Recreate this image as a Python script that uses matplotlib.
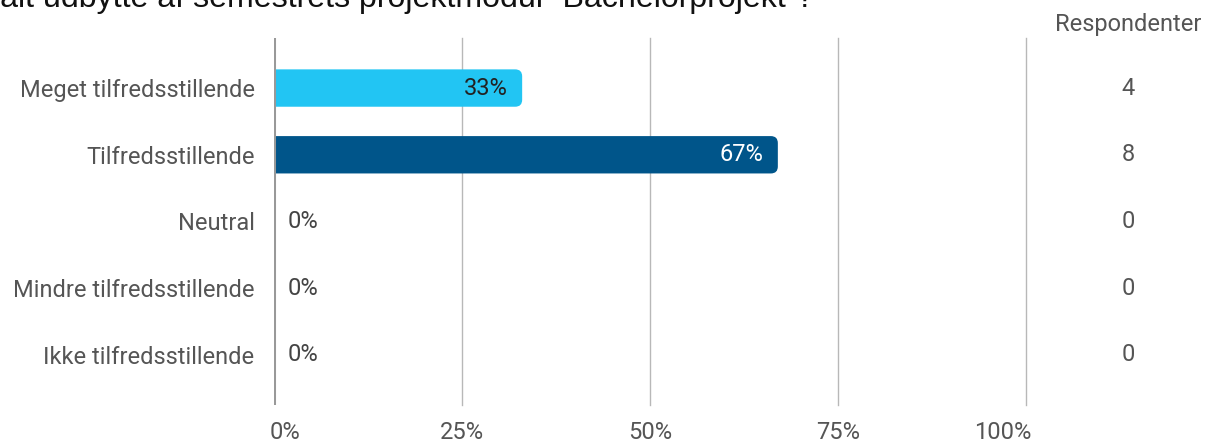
import matplotlib
matplotlib.use("Agg")
import matplotlib.pyplot as plt
from matplotlib.patches import FancyBboxPatch
import matplotlib.transforms as mtransforms

categories = ["Meget tilfredsstillende", "Tilfredsstillende", "Neutral",
              "Mindre tilfredsstillende", "Ikke tilfredsstillende"]
percentages = [33, 67, 0, 0, 0]
respondents = [4, 8, 0, 0, 0]
bar_colors = ["#22C5F3", "#00558A", "#22C5F3", "#22C5F3", "#22C5F3"]
label_colors = ["#222222", "#FFFFFF", "#444444", "#444444", "#444444"]
xticks = [0, 25, 50, 75, 100]
xtick_labels = ["0%", "25%", "50%", "75%", "100%"]
title = "Hvordan vurderer du dit totalt udbytte af semestrets projektmodul \u201cBachelorprojekt\u201d?"
count_header = "Respondenter"

W, H = 1220, 442
fig = plt.figure(figsize=(W / 100, H / 100), dpi=100)
plt.rcParams['font.family'] = ['Roboto', 'DejaVu Sans']

FS = 17
ax_left, ax_right, ax_top, ax_bot = 274, 1026, 38, 405
ax = fig.add_axes([ax_left / W, 1 - ax_bot / H, (ax_right - ax_left) / W, (ax_bot - ax_top) / H])
ax.set_xlim(0, 100)
n = len(categories)
ax.set_ylim(n - 0.25, -0.75)

for s in ax.spines.values():
    s.set_visible(False)
ax.set_xticks(xticks)
ax.set_xticklabels(xtick_labels)
ax.tick_params(axis='x', length=0, pad=11.5, labelsize=FS, labelcolor="#555555")
xt = ax.get_xticklabels()
# end labels are pulled inwards, as in the reference
xt[0].set_transform(xt[0].get_transform() + mtransforms.ScaledTranslation(11 / 100, 0, fig.dpi_scale_trans))
xt[-1].set_transform(xt[-1].get_transform() + mtransforms.ScaledTranslation(-23 / 100, 0, fig.dpi_scale_trans))
ax.set_yticks(range(n))
ax.set_yticklabels(categories)
ax.tick_params(axis='y', length=0, pad=14, labelsize=FS, labelcolor="#555555")
for t in xticks[1:]:
    ax.axvline(t, color="#B8B8B8", lw=1, zorder=0, clip_on=False)
ax.axvline(0, color="#999999", lw=2.2, zorder=5)

bar_h = 0.56
px_per_x = (ax_right - ax_left) / 100.0
px_per_y = (ax_bot - ax_top) / (n + 0.5)
r_px = 7
r_data = r_px / px_per_x
for i, (v, c) in enumerate(zip(percentages, bar_colors)):
    if v > 0:
        # start left of the axis so the left rounded corners are clipped away
        patch = FancyBboxPatch((-2 * r_data, i - bar_h / 2), v + 2 * r_data, bar_h,
                               boxstyle="round,pad=0,rounding_size=%f" % r_data,
                               mutation_aspect=px_per_x / px_per_y,
                               facecolor=c, edgecolor="none", zorder=2)
        ax.add_patch(patch)
        ax.text(v - 14 / px_per_x, i, f"{v}%", ha='right', va='center',
                fontsize=FS, color=label_colors[i], zorder=3)
    else:
        ax.text(14 / px_per_x, i, f"{v}%", ha='left', va='center',
                fontsize=FS, color=label_colors[i], zorder=3)

xc = 1128 / W
blend = mtransforms.blended_transform_factory(fig.transFigure, ax.transData)
for i, cnt in enumerate(respondents):
    ax.text(xc, i, str(cnt), transform=blend,
            ha='center', va='center', fontsize=FS, color="#555555")
fig.text(xc, 1 - 25 / H, count_header, ha='center', va='center', fontsize=FS, color="#555555")

# title: clipped at top of the image; "udbytte" should begin at ~43 px
tfam = ['Liberation Sans', 'DejaVu Sans']
tfs = 23.1
renderer = fig.canvas.get_renderer()
suffix = title[title.index("udbytte"):]
tmp = fig.text(0, 0, suffix, fontsize=tfs, family=tfam)
suffix_w = tmp.get_window_extent(renderer).width
tmp.remove()
fig.text((43 + suffix_w) / W, 1 - 7.5 / H, title, ha='right', va='baseline', fontsize=tfs,
         family=tfam, color="#111111")

fig.savefig("out.png", dpi=100)
